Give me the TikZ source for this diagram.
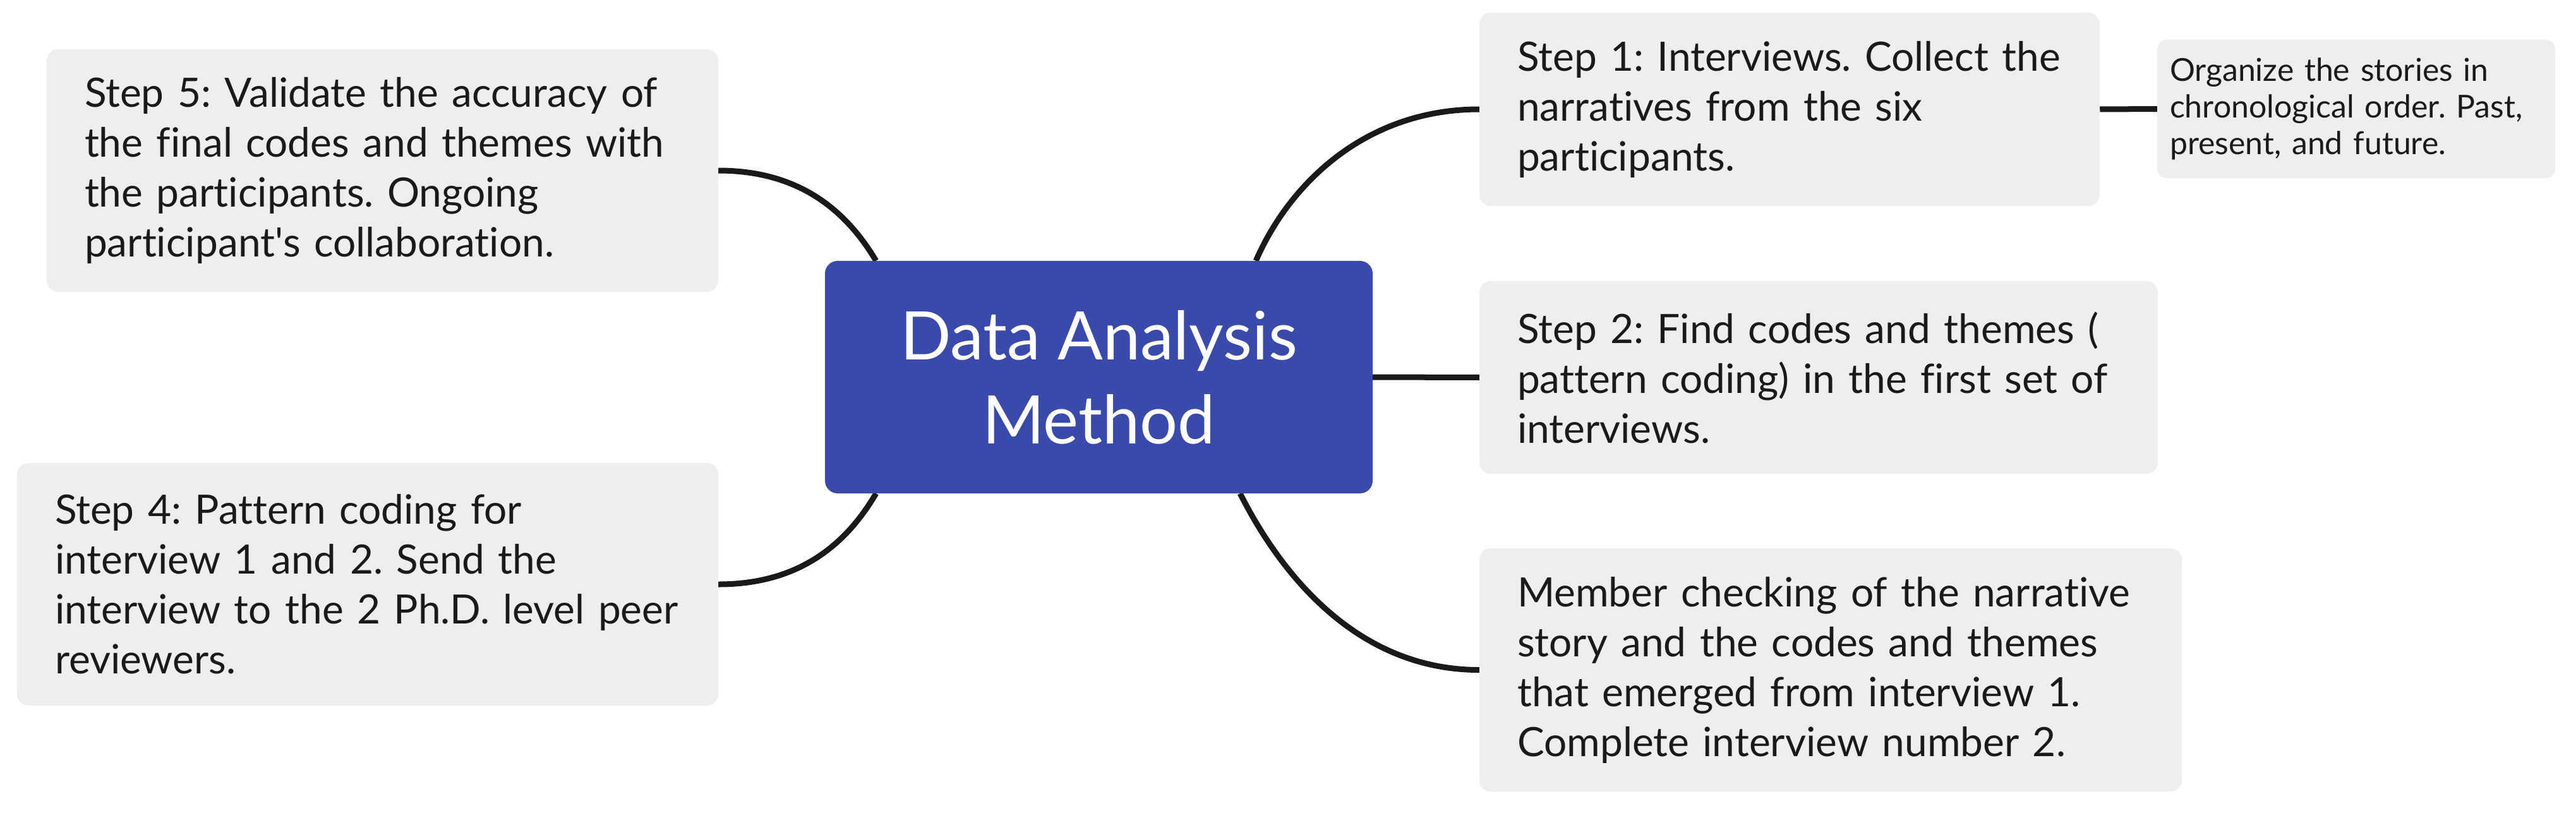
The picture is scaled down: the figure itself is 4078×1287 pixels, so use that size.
\documentclass[tikz,border=0pt]{standalone}
\usepackage{fontspec}
\setmainfont{Lato}[Ligatures={NoCommon,NoContextual}]
\usetikzlibrary{backgrounds,calc}
\definecolor{hub}{HTML}{3A4AAA}
\definecolor{boxgray}{HTML}{EEEEEE}
\definecolor{ink}{HTML}{1A1A1A}
\frenchspacing
\tikzset{
  leaf/.style={fill=boxgray, rounded corners=18pt, inner xsep=0pt, inner ysep=0pt,
    align=left, text=ink, font=\fontsize{64}{79}\selectfont},
  smallleaf/.style={leaf, rounded corners=15pt, font=\fontsize{50}{58}\selectfont},
  hubbox/.style={fill=hub, rounded corners=20pt, inner sep=0pt, text=white, align=center,
    font=\fontsize{106}{133}\selectfont},
  link/.style={line width=9pt, draw=ink}
}
\begin{document}
\begin{tikzpicture}[x=1pt,y=-1pt]
\useasboundingbox (0,0) rectangle (4078,1287);

\node[hubbox, minimum width=867pt, minimum height=368pt] (c) at (1739.5,597)
  {Data Analysis\\Method};

\node[leaf, minimum width=1063pt, minimum height=384pt, text width=943pt] (s5) at (605.5,270)
  {Step 5: Validate the accuracy of\\the final codes and themes with\\the participants. Ongoing\\participant\textquotesingle s collaboration.};
\node[leaf, minimum width=1110pt, minimum height=384pt, text width=990pt] (s4) at (582,925)
  {Step 4: Pattern coding for\\interview 1 and 2. Send the\\interview to the 2 Ph.D. level peer\\reviewers.};
\node[leaf, minimum width=982pt, minimum height=306pt, text width=862pt] (s1) at (2833,173)
  {Step 1: Interviews. Collect the\\narratives from the six\\participants.};
\node[smallleaf, minimum width=630pt, minimum height=219pt, text width=590pt] (o) at (3730,172.5)
  {Organize the stories in\\chronological order. Past,\\present, and future.};
\node[leaf, minimum width=1074pt, minimum height=305pt, text width=954pt] (s2) at (2879,597.5)
  {Step 2: Find codes and themes (\\pattern coding) in the first set of\\interviews.};
\node[leaf, minimum width=1112pt, minimum height=385pt, text width=992pt] (m) at (2898,1060.5)
  {Member checking of the narrative\\story and the codes and themes\\that emerged from interview 1.\\Complete interview number 2.};

\begin{scope}[on background layer]
  \draw[link] ($(c.north east)+(-185,0)$) .. controls (2040,293) and (2160,173) .. (s1.west);
  \draw[link] (c.east) -- (s2.west);
  \draw[link] ($(c.south east)+(-210,0)$) .. controls (2021,896) and (2140,1060.5) .. (m.west);
  \draw[link] ($(c.north west)+(81,0)$) .. controls (1341,336) and (1268,270) .. (s5.east);
  \draw[link] ($(c.south west)+(81,0)$) .. controls (1341,859) and (1268,925) .. (s4.east);
  \draw[link] (s1.east) -- (o.west);
\end{scope}
\end{tikzpicture}
\end{document}
